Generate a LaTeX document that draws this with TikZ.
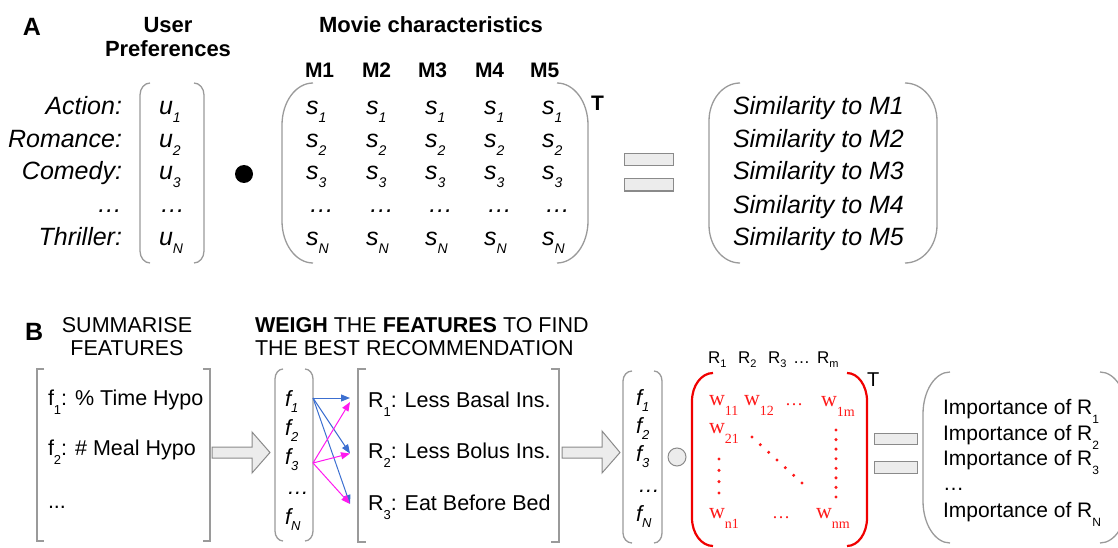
\documentclass[tikz,border=0pt]{standalone}
\usepackage{fontspec}
\setmainfont{Liberation Sans}
\newfontfamily\wfont{Liberation Serif}
\usetikzlibrary{arrows.meta}

\definecolor{brgray}{HTML}{9A9A9A}
\definecolor{opgray}{HTML}{8A8A8A}
\definecolor{opfill}{HTML}{ECECEC}
\definecolor{wred}{HTML}{FF1A1A}
\definecolor{parred}{HTML}{F00000}
\definecolor{linkblue}{HTML}{3C6FD0}
\definecolor{linkmag}{HTML}{FF19F0}

% lowered subscript: text, size, drop
\newcommand\lsub[3]{\raisebox{-#3pt}{\fontsize{#2}{#2}\selectfont #1}}
% soft parenthesis with elliptic corners: style, stub x, spine x, top y, bottom y, corner height
\newcommand\softparen[6]{\draw[#1] (#2,#4)
  .. controls ({#2+0.552*(#3-#2)},#4) and (#3,{#4+0.448*#6}) .. (#3,#4+#6)
  -- (#3,#5-#6)
  .. controls (#3,{#5-0.448*#6}) and ({#2+0.552*(#3-#2)},#5) .. (#2,#5);}
% square bracket: stub x, spine x, top y, bottom y
\newcommand\sqbracket[4]{\draw[br] (#1,#3) -- (#2,#3) -- (#2,#4) -- (#1,#4);}

\tikzset{
  every node/.style={inner sep=0pt, outer sep=0pt},
  panel/.style={font=\fontsize{25}{30}\selectfont\bfseries, anchor=base west},
  hdr/.style={font=\fontsize{22}{26}\selectfont\bfseries, anchor=base},
  mlab/.style={font=\fontsize{21}{25}\selectfont\bfseries, anchor=base west},
  itx/.style={font=\fontsize{25}{30}\selectfont\itshape, anchor=base west},
  itxr/.style={font=\fontsize{25}{30}\selectfont\itshape, anchor=base east},
  ttx/.style={font=\fontsize{21.5}{26}\selectfont, anchor=base west},
  ttxc/.style={font=\fontsize{21.5}{26}\selectfont, anchor=base},
  fcol/.style={font=\fontsize{22}{26}\selectfont\itshape, anchor=base west},
  imp/.style={font=\fontsize{21}{25}\selectfont, anchor=base west},
  rhd/.style={font=\fontsize{17}{20}\selectfont, anchor=base west},
  wtx/.style={font=\fontsize{22}{26}\selectfont\wfont, text=wred, anchor=base west},
  wdots/.style={font=\fontsize{18}{22}\selectfont\wfont, text=wred, anchor=base west},
  br/.style={draw=brgray, line width=1.3pt},
  redpar/.style={draw=parred, line width=2.2pt},
  opbox/.style={draw=opgray, fill=opfill, line width=1pt},
  bigarrow/.style={draw=opgray, fill=opfill, line width=1pt, line join=miter},
  link/.style={line width=1pt, -{Triangle[length=9pt,width=7pt]}},
  reddot/.style={fill=wred, draw=none},
}

\begin{document}
\begin{tikzpicture}[x=1pt, y=-1pt]
\useasboundingbox (0,0) rectangle (1118,548);
\clip (0,0) rectangle (1118,548);

% ---------------- Panel A ----------------
\node[panel] (labA) at (23,36) {A};
\node[hdr] (hUser) at (168,33) {User};
\node[hdr] (hPref) at (168,57) {Preferences};
\node[hdr] (hMovie) at (431,33) {Movie characteristics};

% genre labels
\node[itxr] (gAct) at (122,115) {Action:};
\node[itxr] (gRom) at (122,147.5) {Romance:};
\node[itxr] (gCom) at (122,180) {Comedy:};
\node[itxr] (gDots) at (122,212.5) {…};
\node[itxr] (gThr) at (122,245) {Thriller:};

% user preference vector
\softparen{br}{150}{140}{83}{263}{12}
\softparen{br}{194}{204}{83}{263}{12}
\node[itx] (u1) at (159,115) {u\lsub{1}{14}{8}};
\node[itx] (u2) at (159,147.5) {u\lsub{2}{14}{8}};
\node[itx] (u3) at (159,180) {u\lsub{3}{14}{8}};
\node[itx] (uD) at (160,212.5) {…};
\node[itx] (uN) at (159,245) {u\lsub{N}{14}{8}};

% dot product operator
\fill (244,174) circle (9);

% movie matrix
\softparen{br}{313}{282}{83}{263}{42}
\softparen{br}{557}{588}{83}{263}{42}
\foreach \i/\x/\mx in {1/306/305, 2/366/362, 3/425/418, 4/484/475, 5/542/530}{
  \node[mlab] (M\i) at (\mx,78) {M\i};
  \node[itx] (s1c\i) at (\x,115) {s\lsub{1}{14}{8}};
  \node[itx] (s2c\i) at (\x,147.5) {s\lsub{2}{14}{8}};
  \node[itx] (s3c\i) at (\x,180) {s\lsub{3}{14}{8}};
  \node[itx] (sDc\i) at (\x+3,212.5) {…};
  \node[itx] (sNc\i) at (\x,245) {s\lsub{N}{14}{8}};
}
\node[font=\fontsize{21}{24}\selectfont\bfseries, anchor=base west] (TA) at (591,111) {T};

% equals sign
\draw[opbox] (624,154) rectangle (673,166);
\draw[opbox] (624,179) rectangle (673,191);

% similarity vector
\softparen{br}{740}{709}{83}{263}{38}
\softparen{br}{905}{937}{83}{263}{38}
\node[itx] (sim1) at (733,115) {Similarity to M1};
\node[itx] (sim2) at (733,148) {Similarity to M2};
\node[itx] (sim3) at (733,180) {Similarity to M3};
\node[itx] (sim4) at (733,213) {Similarity to M4};
\node[itx] (sim5) at (733,245) {Similarity to M5};

% ---------------- Panel B ----------------
\node[panel] (labB) at (25,340) {B};
\node[ttxc] (hSum1) at (127,332) {SUMMARISE};
\node[ttxc] (hSum2) at (127,355) {FEATURES};
\node[ttx] (hWeigh1) at (255,332) {\textbf{WEIGH} THE \textbf{FEATURES} TO FIND};
\node[ttx] (hWeigh2) at (255,355) {THE BEST RECOMMENDATION};

% feature summary
\sqbracket{44}{37}{369}{541}
\sqbracket{203}{210}{369}{541}
\node[ttx] (feat1) at (48,405) {f\lsub{1}{13}{9}: \% Time Hypo};
\node[ttx] (feat2) at (48,455) {f\lsub{2}{13}{9}: \# Meal Hypo};
\node[ttx] (feat3) at (48,508) {...};

\draw[bigarrow] (212,447) -- (252,447) -- (252,432) -- (270,452.5) -- (252,473) -- (252,458) -- (212,458) -- cycle;

% feature vector
\softparen{br}{283}{275}{369}{541}{10}
\softparen{br}{305}{313}{369}{541}{10}
\node[fcol] (fa1) at (285,406) {f\lsub{1}{13}{6}};
\node[fcol] (fa2) at (285,435) {f\lsub{2}{13}{6}};
\node[fcol] (fa3) at (285,464) {f\lsub{3}{13}{6}};
\node[fcol] (faD) at (287,494) {…};
\node[fcol] (faN) at (285,524) {f\lsub{N}{13}{6}};

% recommendations
\sqbracket{366}{358}{369}{542}
\sqbracket{551}{559}{369}{542}
\node[ttx] (rec1) at (368,407) {R\lsub{1}{13}{9}: Less Basal Ins.};
\node[ttx] (rec2) at (368,458) {R\lsub{2}{13}{9}: Less Bolus Ins.};
\node[ttx] (rec3) at (368,510) {R\lsub{3}{13}{9}: Eat Before Bed};

% feature-to-recommendation weights
\coordinate (src1) at (313,398);
\coordinate (src3) at (313,463);
\coordinate (dstB1) at (350,398);
\coordinate (dstM1) at (350,402);
\coordinate (dst2) at (350,453.5);
\coordinate (dst3) at (350,504);
\draw[link, linkblue] (src1) -- (dstB1);
\draw[link, linkblue] (src1) -- (dst2);
\draw[link, linkblue] (src1) -- (dst3);
\draw[link, linkmag] (src3) -- (dstM1);
\draw[link, linkmag] (src3) -- (dst2);
\draw[link, linkmag] (src3) -- (dst3);

\draw[bigarrow] (562,447) -- (602,447) -- (602,431) -- (620,452.5) -- (602,473) -- (602,458) -- (562,458) -- cycle;

% feature vector again
\softparen{br}{632}{623}{371}{543}{10}
\softparen{br}{654}{662}{371}{543}{10}
\node[fcol] (fb1) at (636,405) {f\lsub{1}{13}{6}};
\node[fcol] (fb2) at (636,433) {f\lsub{2}{13}{6}};
\node[fcol] (fb3) at (636,461) {f\lsub{3}{13}{6}};
\node[fcol] (fbD) at (638,492) {…};
\node[fcol] (fbN) at (636,521) {f\lsub{N}{13}{6}};

% product operator
\draw[opbox] (677,457) circle (9);

% weight matrix
\node[rhd] (hR1) at (708,363) {R\lsub{1}{11}{4}};
\node[rhd] (hR2) at (738,363) {R\lsub{2}{11}{4}};
\node[rhd] (hR3) at (768,363) {R\lsub{3}{11}{4}};
\node[rhd] (hRD) at (793,363) {…};
\node[rhd] (hRm) at (817,363) {R\lsub{m}{11}{4}};

\softparen{redpar}{713}{692}{373}{546}{28}
\softparen{redpar}{847}{867}{373}{546}{28}
\node[font=\fontsize{20}{22}\selectfont, anchor=base west] (TB) at (867,386) {T};

\node[wtx] (w11) at (709,405) {w\lsub{11}{14}{10}};
\node[wtx] (w12) at (744,405) {w\lsub{12}{14}{10}};
\node[wdots] (w1D) at (785,405) {…};
\node[wtx] (w1m) at (821,406) {w\lsub{1m}{14}{10}};
\node[wtx] (w21) at (709,433) {w\lsub{21}{14}{10}};
\node[wtx] (wn1) at (709,518) {w\lsub{n1}{14}{10}};
\node[wdots] (wnD) at (772,518) {…};
\node[wtx] (wnm) at (816,518) {w\lsub{nm}{14}{10}};

\foreach \k in {0,...,6}{
  \fill[reddot] ({752+\k*50/6},{437+\k*46/6}) circle (1.7);
}
\foreach \k in {0,...,3}{
  \fill[reddot] (719,{459+\k*34/3}) circle (1.7);
}
\foreach \k in {0,...,7}{
  \fill[reddot] (836,{430+\k*67/7}) circle (1.7);
}

% equals sign
\draw[opbox] (874,433) rectangle (917,444);
\draw[opbox] (874,461) rectangle (917,473);

% importance vector
\softparen{br}{950}{923}{372}{543}{42}
\softparen{br}{1100}{1127}{372}{543}{42}
\node[imp] (imp1) at (943,414) {Importance of R\lsub{1}{12}{9}};
\node[imp] (imp2) at (943,440) {Importance of R\lsub{2}{12}{9}};
\node[imp] (imp3) at (943,465) {Importance of R\lsub{3}{12}{9}};
\node[imp] (impD) at (943,490) {…};
\node[imp] (impN) at (943,517) {Importance of R\lsub{N}{12}{9}};
\end{tikzpicture}
\end{document}
